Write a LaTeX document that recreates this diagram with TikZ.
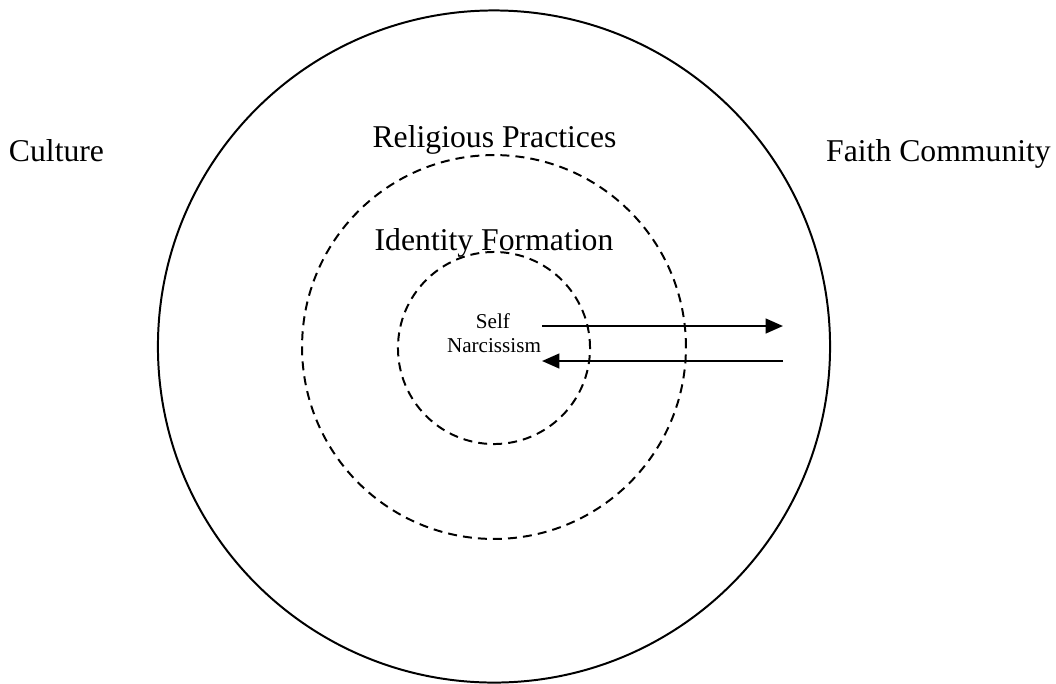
\documentclass[tikz,border=0pt]{standalone}
\usepackage{fontspec}
\setmainfont{Liberation Serif}
\usetikzlibrary{arrows.meta}
\tikzset{
  ring/.style={draw, circle, inner sep=0pt, line width=0.75pt},
  dashring/.style={ring, dash pattern=on 3.4pt off 2.3pt},
  bigtext/.style={font=\fontsize{12}{14}\selectfont, inner sep=0pt, anchor=base},
  smalltext/.style={font=\fontsize{8}{9.6}\selectfont, inner sep=0pt, anchor=base},
  flow/.style={line width=0.8pt, -{Triangle[length=6.6pt,width=5.6pt]}}
}
\begin{document}
\begin{tikzpicture}[x=0.3785pt, y=-0.3785pt]
\path[use as bounding box] (0,0) rectangle (1056,683);
\node[ring, minimum size=254.4pt] (outer) at (494,346.5) {};
\node[dashring, minimum size=145.3pt] (middle) at (494,347) {};
\node[dashring, minimum size=72.7pt] (inner) at (494,348) {};
\node[bigtext] (culture) at (56.5,161) {Culture};
\node[bigtext] (faith) at (938.5,161) {Faith Community};
\node[bigtext] (religious) at (494.5,147) {Religious Practices};
\node[bigtext] (identity) at (494,250) {Identity Formation};
\node[smalltext] (self) at (493,328) {Self};
\node[smalltext] (narc) at (494,352) {Narcissism};
\coordinate (a1s) at (542,326);
\coordinate (a1e) at (783,326);
\coordinate (a2s) at (783,361);
\coordinate (a2e) at (542,361);
\draw[flow] (a1s) -- (a1e);
\draw[flow] (a2s) -- (a2e);
\end{tikzpicture}
\end{document}
